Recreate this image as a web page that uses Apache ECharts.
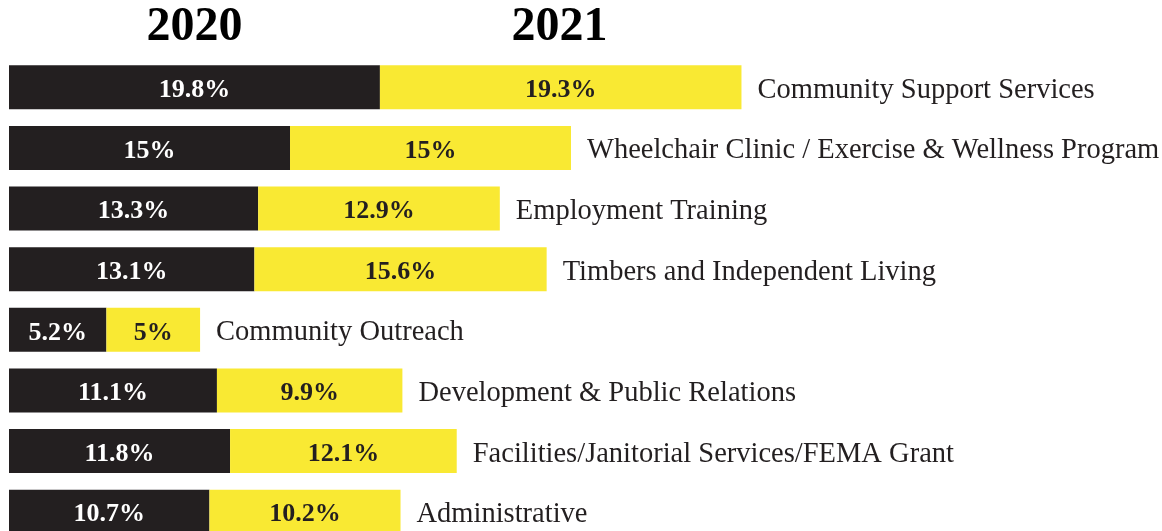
<!doctype html>
<html lang="en">
<head>
    <meta charset="UTF-8">
    <title>2020 / 2021</title>
    <style>
        html, body { margin: 0; padding: 0; background: #fff; }
    </style>
</head>
<body>
    <script src="https://cdn.jsdelivr.net/npm/echarts@6/dist/echarts.min.js"></script>
    <div id="bars" style="width: 1162px; height: 531px"></div>

    <script>
        // categories top to bottom
        var categories = [
            'Community Support Services',
            'Wheelchair Clinic / Exercise & Wellness Program',
            'Employment Training',
            'Timbers and Independent Living',
            'Community Outreach',
            'Development & Public Relations',
            'Facilities/Janitorial Services/FEMA Grant',
            'Administrative'
        ];
        var year2020 = [19.8, 15, 13.3, 13.1, 5.2, 11.1, 11.8, 10.7];
        var year2021 = [19.3, 15, 12.9, 15.6, 5, 9.9, 12.1, 10.2];
        var years = ['2020', '2021'];

        var dark = '#231f20';
        var yellow = '#f9e933';
        var serif = '"Liberation Serif", "DejaVu Serif", serif';

        var valueLabel = function (color) {
            return {
                show: true,
                position: 'inside',
                offset: [0, 3],
                color: color,
                fontFamily: serif,
                fontWeight: 'bold',
                fontSize: 26,
                formatter: function (p) { return p.value + '%'; }
            };
        };

        var option = {
            animation: false,
            title: [
                { text: years[0], left: 189.5, top: -1, textAlign: 'center',
                  textStyle: { fontFamily: serif, fontWeight: 'bold', fontSize: 48, color: '#000' } },
                { text: years[1], left: 554.5, top: -1, textAlign: 'center',
                  textStyle: { fontFamily: serif, fontWeight: 'bold', fontSize: 48, color: '#000' } }
            ],
            grid: { left: 9, top: 57, width: 1124, height: 485, outerBoundsMode: 'none' },
            xAxis: { type: 'value', min: 0, max: 60, show: false },
            yAxis: {
                type: 'category',
                data: categories,
                inverse: true,
                show: false
            },
            series: [
                {
                    name: years[0],
                    type: 'bar',
                    stack: 'total',
                    barWidth: 44,
                    itemStyle: { color: dark },
                    label: valueLabel('#fff'),
                    data: year2020
                },
                {
                    name: years[1],
                    type: 'bar',
                    stack: 'total',
                    barWidth: 44,
                    itemStyle: { color: yellow },
                    label: valueLabel(dark),
                    data: year2021
                },
                {
                    // carries the category name just past the end of each bar
                    name: 'names',
                    type: 'bar',
                    stack: 'total',
                    barWidth: 44,
                    itemStyle: { color: 'transparent' },
                    label: {
                        show: true,
                        position: 'right',
                        distance: 16,
                        offset: [0, 3],
                        color: dark,
                        fontFamily: serif,
                        fontSize: 28.5,
                        formatter: function (p) { return p.name; }
                    },
                    data: categories.map(function () { return 0; })
                }
            ]
        };

        var chart = echarts.init(document.getElementById('bars'));
        chart.setOption(option);
    </script>
</body>
</html>
